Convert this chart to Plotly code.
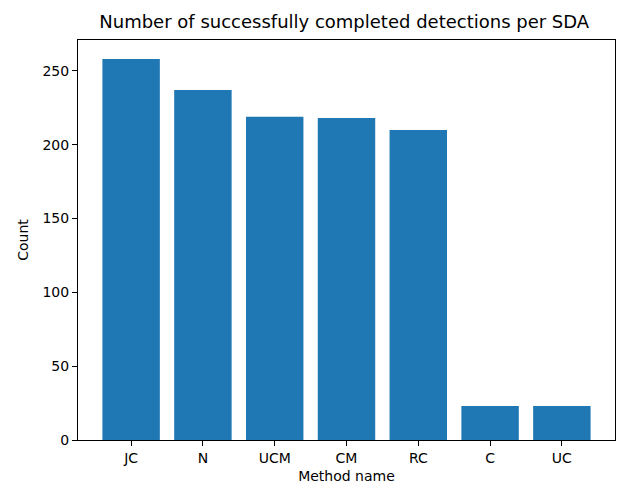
import plotly.graph_objects as go

methods = ["JC", "N", "UCM", "CM", "RC", "C", "UC"]
counts = [258, 237, 219, 218, 210, 23, 23]

fig = go.Figure(go.Bar(
    x=list(range(len(methods))), y=counts, width=0.8,
    marker=dict(color="#1f77b4", line=dict(width=0)),
))

axis_common = dict(
    showline=True, linecolor="black", linewidth=1, mirror=True,
    ticks="outside", ticklen=5, tickwidth=1, tickcolor="black",
    showgrid=False, zeroline=False, automargin=False,
    tickfont=dict(family="DejaVu Sans", size=14, color="black"),
)

fig.update_layout(
    width=618, height=484,
    margin=dict(l=78, r=3, t=40, b=44),
    paper_bgcolor="white", plot_bgcolor="white",
    font=dict(family="DejaVu Sans", color="black"),
    title=dict(text="Number of successfully completed detections per SDA",
               x=0.557, xanchor="center", y=0.955, yanchor="middle",
               font=dict(size=18, family="DejaVu Sans", color="black")),
    xaxis=dict(**axis_common, range=[-0.74, 6.74],
               tickvals=list(range(len(methods))), ticktext=methods,
               title=dict(text="Method name", font=dict(size=14), standoff=9)),
    yaxis=dict(**axis_common, range=[0, 270.9],
               tickvals=[0, 50, 100, 150, 200, 250],
               title=dict(text="Count", font=dict(size=14), standoff=10)),
    showlegend=False,
)

fig.write_html("out.html")
